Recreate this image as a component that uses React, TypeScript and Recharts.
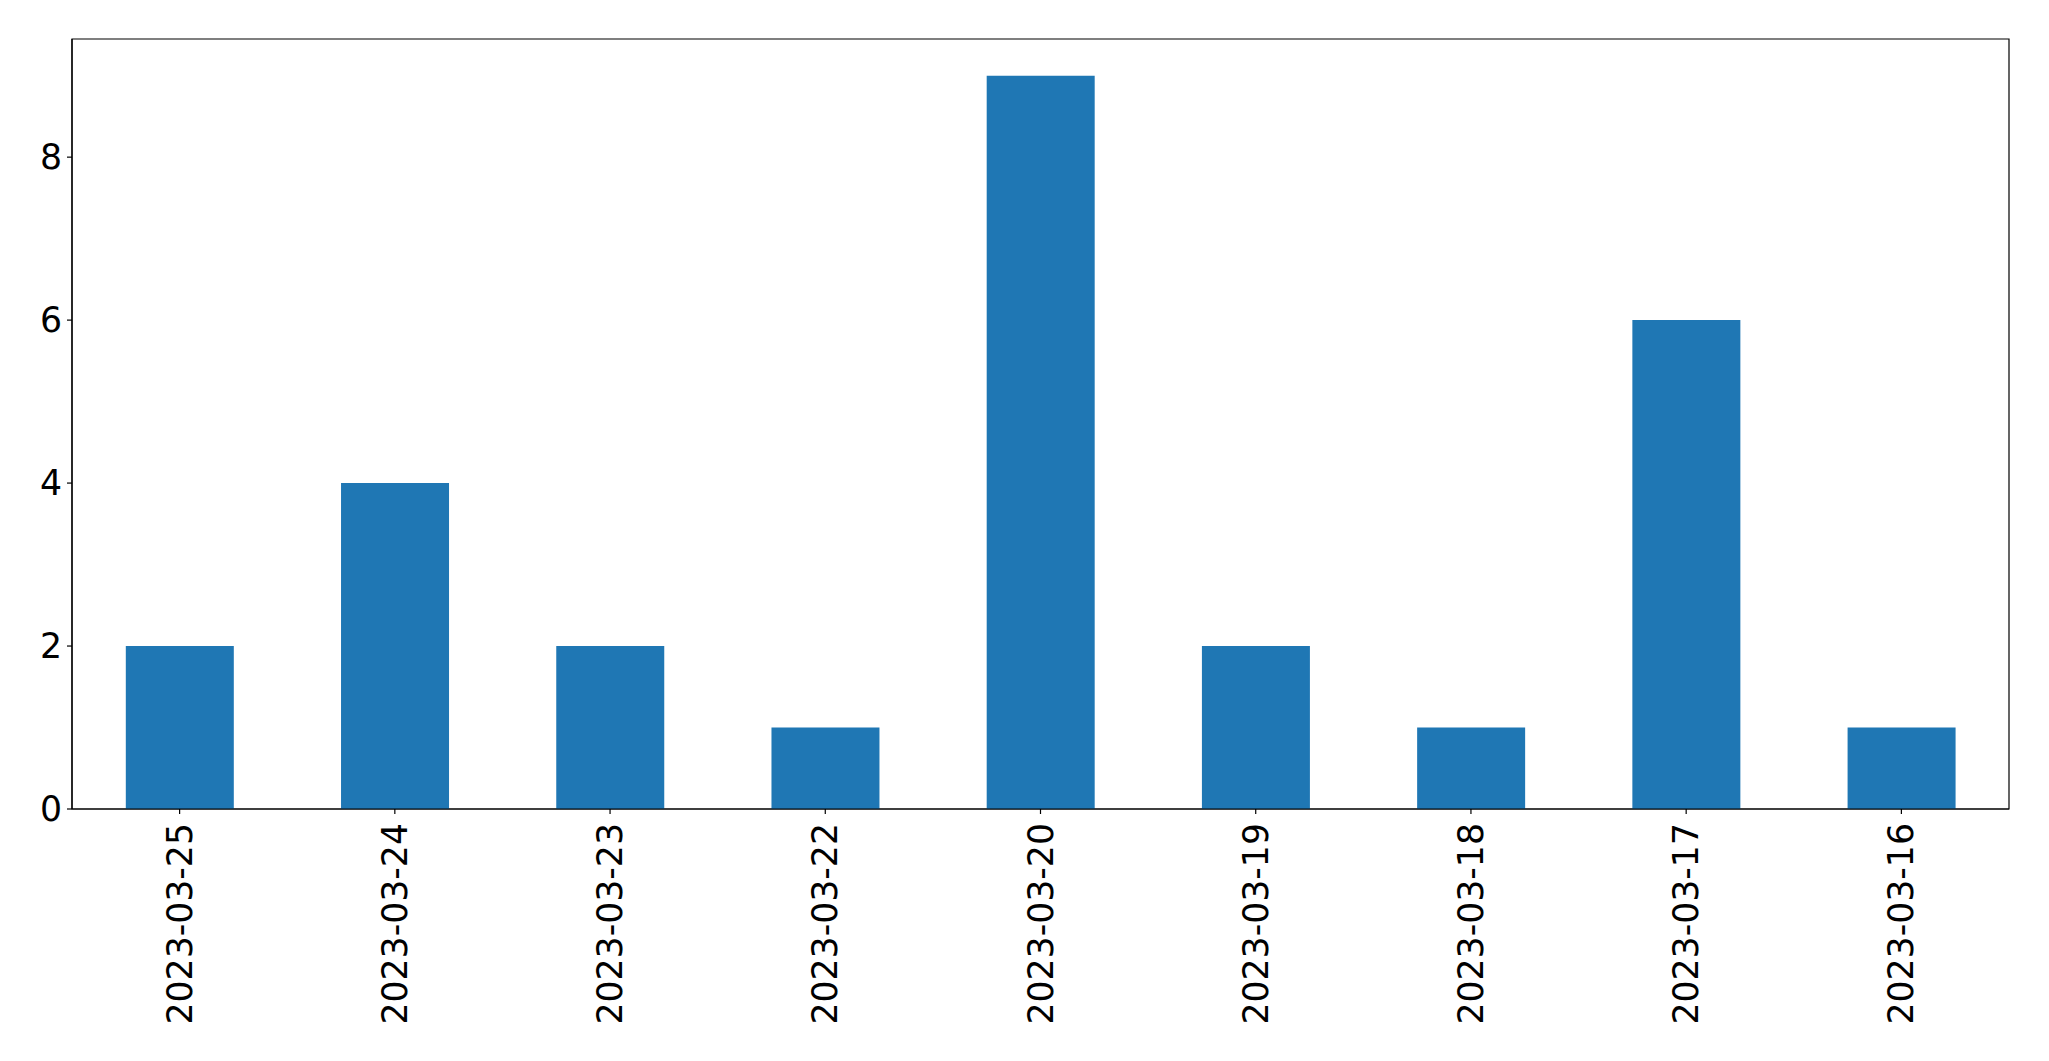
import { BarChart, Bar, XAxis, YAxis, ReferenceArea } from 'recharts';

const DATES = [
  '2023-03-25',
  '2023-03-24',
  '2023-03-23',
  '2023-03-22',
  '2023-03-20',
  '2023-03-19',
  '2023-03-18',
  '2023-03-17',
  '2023-03-16',
];
const COUNTS = [2, 4, 2, 1, 9, 2, 1, 6, 1];
const Y_TICKS = [0, 2, 4, 6, 8];
const Y_MAX = 9.45;

const FONT = '"DejaVu Sans", sans-serif';
const FONT_SIZE = 34.7;
const BLUE = '#1f77b4';

const data = DATES.map((date, i) => ({ date, count: COUNTS[i] }));

// matplotlib-style rotated date labels, reading bottom to top
function DateTick({ x, y, payload }: any) {
  return (
    <text
      x={x}
      y={y + 4}
      transform={`rotate(-90, ${x}, ${y + 4})`}
      textAnchor="end"
      dominantBaseline="central"
      fill="#000"
      fontFamily={FONT}
      fontSize={FONT_SIZE}
    >
      {payload.value}
    </text>
  );
}

export default function App() {
  return (
    <div style={{ position: 'absolute', left: 0, top: 0, background: '#fff' }}>
      <BarChart
        width={2049}
        height={1061}
        data={data}
        margin={{ top: 39, right: 40, left: 0, bottom: 0 }}
        barCategoryGap="25%"
      >
        <ReferenceArea y1={0} y2={Y_MAX} fill="none" stroke="#000" strokeWidth={1.2} ifOverflow="visible" />
        <XAxis
          dataKey="date"
          height={252}
          interval={0}
          tick={<DateTick />}
          tickSize={5}
          tickMargin={5}
          axisLine={{ stroke: '#000', strokeWidth: 1.2 }}
          tickLine={{ stroke: '#000', strokeWidth: 1.2 }}
        />
        <YAxis
          width={72}
          domain={[0, Y_MAX]}
          ticks={Y_TICKS}
          allowDataOverflow
          tickSize={5}
          tickMargin={5}
          tick={{ fill: '#000', fontSize: FONT_SIZE, fontFamily: FONT }}
          axisLine={{ stroke: '#000', strokeWidth: 1.2 }}
          tickLine={{ stroke: '#000', strokeWidth: 1.2 }}
        />
        <Bar dataKey="count" fill={BLUE} isAnimationActive={false} />
      </BarChart>
    </div>
  );
}
